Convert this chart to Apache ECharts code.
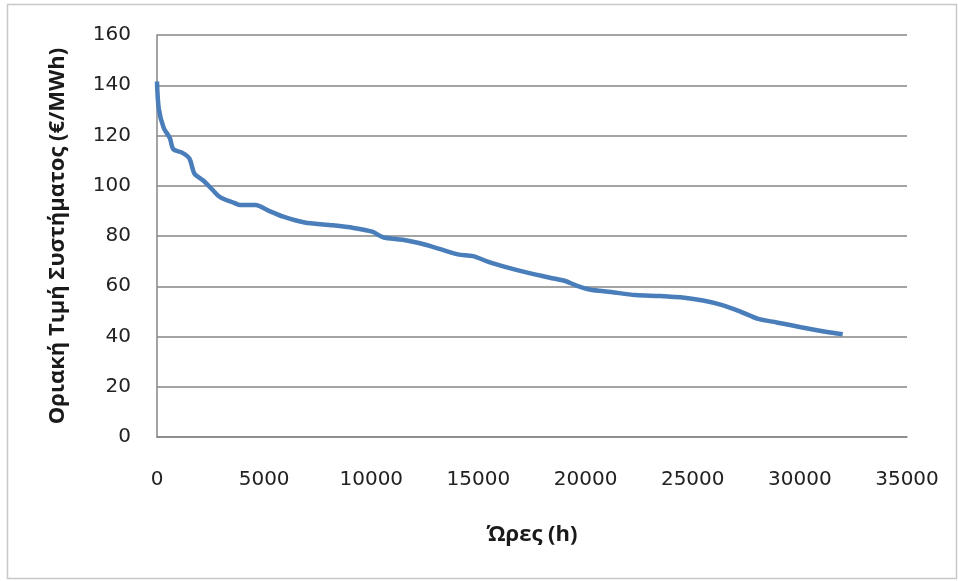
<!DOCTYPE html>
<html>
<head>
<meta charset="utf-8">
<script src="https://cdn.jsdelivr.net/npm/echarts@6/dist/echarts.min.js"></script>
<style>html,body{margin:0;padding:0;background:#fff}#c{width:958px;height:581px}</style>
</head>
<body>
<div id="c"></div>
<script>
const hours = [0, 86, 315, 600, 762, 1170, 1515, 1744, 2173, 2600, 2940, 3600, 3890, 4600, 5175, 5895, 6890, 8035, 9180, 10040, 10550, 11470, 12320, 13180, 14040, 14750, 15470, 16330, 17190, 18330, 19050, 19470, 20190, 21190, 22330, 23480, 24620, 25480, 26340, 27200, 28060, 28920, 30050, 31200, 32000];
const prices = [141.5, 130.5, 123, 119, 114.5, 113.2, 110.8, 104.9, 102, 98.3, 95.5, 93.2, 92.3, 92.3, 90.2, 87.7, 85.4, 84.4, 83.2, 81.7, 79.5, 78.5, 77, 74.9, 72.7, 72, 69.7, 67.5, 65.6, 63.4, 62.1, 60.6, 58.7, 57.7, 56.5, 56.1, 55.4, 54.3, 52.6, 50, 47, 45.6, 43.7, 41.9, 40.9];
const xTitle = 'Ώρες (h)';
const yTitle = 'Οριακή Τιμή Συστήματος (€/MWh)';

const chart = echarts.init(document.getElementById('c'), null, {renderer: 'canvas'});
const tickFont = '"DejaVu Sans", sans-serif';
const titleFont = '"Open Sans", "DejaVu Sans", sans-serif';
chart.setOption({
  animation: false,
  backgroundColor: '#fff',
  graphic: [{type: 'rect', shape: {x: 7.5, y: 4.5, width: 949, height: 574}, style: {fill: 'none', stroke: '#c8c8c8', lineWidth: 1.5}, z: -1}],
  grid: {left: 157, right: 51, top: 35, bottom: 144},
  xAxis: {
    type: 'value', min: 0, max: 35000, interval: 5000,
    name: xTitle, nameLocation: 'middle', nameGap: 87,
    nameTextStyle: {fontFamily: titleFont, fontSize: 22, fontWeight: 'bold', color: '#1a1a1a'},
    axisLine: {show: true, lineStyle: {color: '#868686', width: 1.5}},
    axisTick: {show: false},
    splitLine: {show: false},
    axisLabel: {margin: 33, fontFamily: tickFont, fontSize: 20, color: '#222', formatter: v => String(v)}
  },
  yAxis: {
    type: 'value', min: 0, max: 160, interval: 20,
    name: yTitle, nameLocation: 'middle', nameGap: 88, nameRotate: 90,
    nameTextStyle: {fontFamily: titleFont, fontSize: 22, fontWeight: 'bold', color: '#1a1a1a'},
    axisLine: {show: true, lineStyle: {color: '#868686', width: 1.5}},
    axisTick: {show: false},
    splitLine: {show: true, lineStyle: {color: '#868686', width: 1.5}},
    axisLabel: {margin: 26, fontFamily: tickFont, fontSize: 20, color: '#222'}
  },
  series: [{
    type: 'line', data: hours.map((h, i) => [h, prices[i]]),
    smooth: 0.3, showSymbol: false,
    lineStyle: {color: '#4a7ebb', width: 4.5}
  }]
});
</script>
</body>
</html>
